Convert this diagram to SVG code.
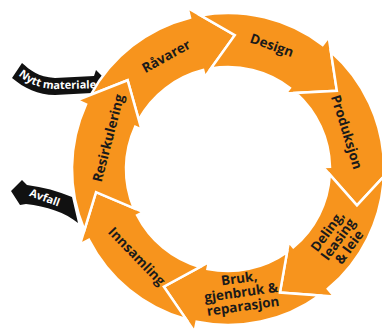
<svg xmlns="http://www.w3.org/2000/svg" width="382" height="332" viewBox="0 0 382 332">
<style>
.seg{fill:#F7941D;stroke:#fff;stroke-width:2.5;stroke-linejoin:miter}
.lbl{font-family:"Open Sans","DejaVu Sans",sans-serif;font-weight:700;font-size:13.5px;fill:#1a1a1a;text-anchor:middle;dominant-baseline:central}
.ext{fill:#111}
.extl{font-family:"Open Sans","DejaVu Sans",sans-serif;font-weight:700;font-size:11px;fill:#fff}
</style>
<rect width="382" height="332" fill="#fff"/>
<g id="connectors">
<g id="nytt-materiale">
<path class="ext" d="M22,63 C30,70 38,77 55,78 L94,76 L96,70 L108,82 L102,96 L92,93 L55,95 C38,95 24,88 12,78 Z"/>
<path id="p1" d="M16,73 C28,84 40,89 58,89 L112,88" fill="none"/>
<text class="extl"><textPath href="#p1" startOffset="3">Nytt materiale</textPath></text>
</g>
<g id="avfall">
<path class="ext" d="M22,180 L27,185 C43,187 58,191 72,197 L78,223 C66,213 46,206 26,204 L20,205 L11,191 Z"/>
<text class="extl" font-size="12.5" transform="translate(45,197) rotate(20)" text-anchor="middle" dominant-baseline="central">Avfall</text>
</g>
</g>
<g id="ravarer">
<path class="seg" d="M90.80,94.78 A156,156 0 0 1 190.00,17.70 L187.56,8.00 L234.78,35.17 L204.86,76.86 L203.15,70.07 A102,102 0 0 0 138.72,119.67 L127.61,80.27 Z"/>
<text class="lbl" transform="translate(166,56) rotate(-29)">Råvarer</text>
</g>
<g id="design">
<path class="seg" d="M200.48,15.45 A156,156 0 0 1 322.63,44.98 L328.70,37.03 L336.86,90.86 L285.63,93.47 L289.87,87.91 A102,102 0 0 0 210.90,68.45 L234.78,35.17 Z"/>
<text class="lbl" transform="translate(272,45) rotate(19.5)">Design</text>
</g>
<g id="produksjon">
<path class="seg" d="M330.90,51.75 A156,156 0 0 1 383.96,165.62 L393.96,165.41 L356.96,205.39 L322.98,166.94 L329.98,166.79 A102,102 0 0 0 295.95,92.94 L336.86,90.86 Z"/>
<text class="lbl" transform="translate(347,132) rotate(72.7)">Produksjon</text>
</g>
<g id="deling">
<path class="seg" d="M383.83,176.35 A156,156 0 0 1 327.87,288.82 L334.27,296.50 L279.95,292.52 L288.82,241.97 L293.30,247.35 A102,102 0 0 0 329.84,174.71 L356.96,205.39 Z"/>
<text class="lbl" font-size="12.5" transform="translate(338,239) rotate(-54)"><tspan x="0" y="-13.5">Deling,</tspan><tspan x="0" y="0">leasing</tspan><tspan x="0" y="13.5">&amp; leie</tspan></text>
</g>
<g id="bruk">
<path class="seg" d="M319.42,295.41 A156,156 0 0 1 196.61,321.80 L194.60,331.60 L163.84,286.63 L208.89,262.05 L207.48,268.91 A102,102 0 0 0 287.03,252.18 L279.95,292.52 Z"/>
<text class="lbl" transform="translate(241,292) rotate(-8)"><tspan x="0" y="-14">Bruk,</tspan><tspan x="0" y="0">gjenbruk &amp;</tspan><tspan x="0" y="14">reparasjon</tspan></text>
</g>
<g id="innsamling">
<path class="seg" d="M186.19,319.29 A156,156 0 0 1 88.96,239.73 L80.04,244.26 L96.02,192.18 L143.33,212.07 L137.09,215.25 A102,102 0 0 0 199.79,267.02 L163.84,286.63 Z"/>
<text class="lbl" transform="translate(137,256) rotate(46)">Innsamling</text>
</g>
<g id="resirkulering">
<path class="seg" d="M84.42,230.00 A156,156 0 0 1 86.01,104.37 L76.91,100.23 L127.61,80.27 L141.53,129.64 L135.16,126.74 A102,102 0 0 0 133.77,208.05 L96.02,192.18 Z"/>
<text class="lbl" transform="translate(108,138) rotate(-75.5)">Resirkulering</text>
</g>
</svg>
